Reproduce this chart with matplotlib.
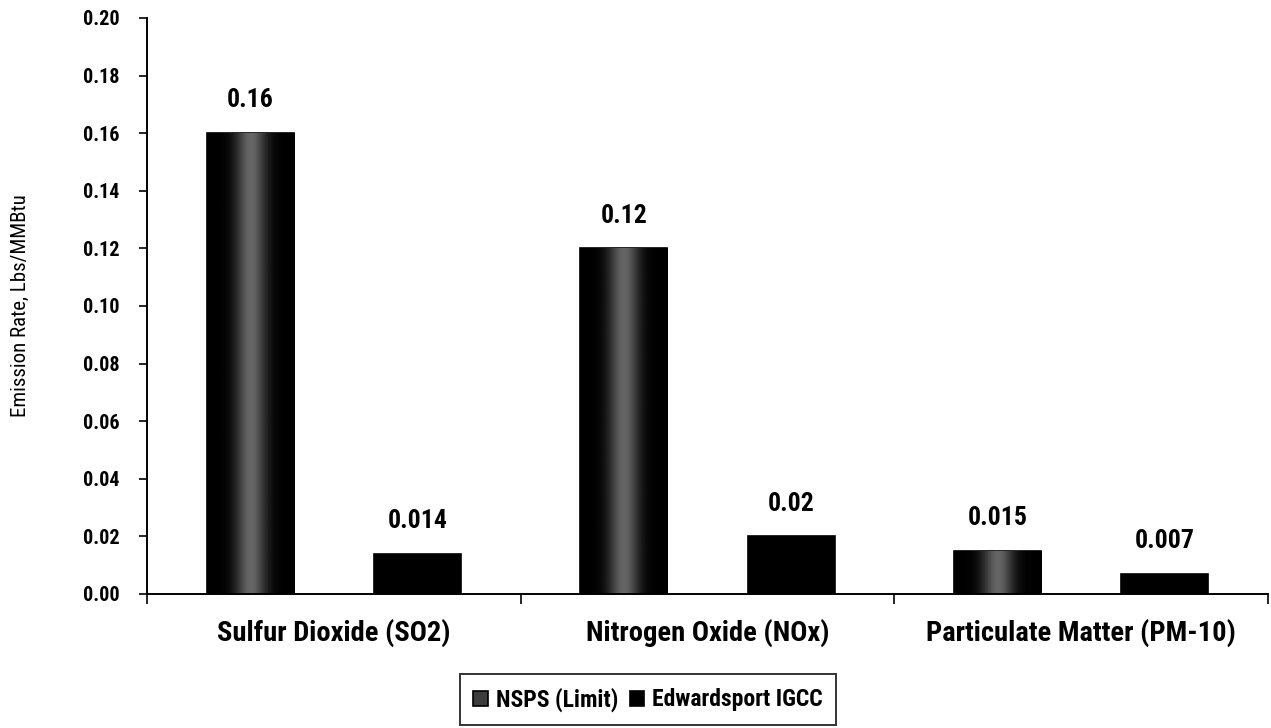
import numpy as np
import matplotlib.pyplot as plt
from matplotlib.ticker import FixedLocator

plt.rcParams['font.family'] = ['Roboto Condensed', 'DejaVu Sans']

# Emission rates, lbs/MMBtu
pollutants = ['Sulfur Dioxide (SO2)', 'Nitrogen Oxide (NOx)', 'Particulate Matter (PM-10)']
nsps_limit = [0.16, 0.12, 0.015]
edwardsport = [0.014, 0.02, 0.007]
nsps_labels = ['0.16', '0.12', '0.015']
edw_labels = ['0.014', '0.02', '0.007']

fig = plt.figure(figsize=(12.71, 7.28), dpi=100)
ax = fig.add_axes([0.1157, 0.1841, 0.8819, 0.7912])

x = np.arange(len(pollutants))
w = 0.233
off = 0.224

b1 = ax.bar(x - off, nsps_limit, w, color='#3c3c3c', edgecolor='black',
            linewidth=1.2, label='NSPS (Limit)', zorder=2)
b2 = ax.bar(x + off, edwardsport, w, color='black', edgecolor='black',
            linewidth=1.2, label='Edwardsport IGCC', zorder=2)

# shaded fill for the limit bars: dark edges, lighter middle
prof = np.linspace(-1, 1, 200)
shade = 0.40 * np.exp(-(prof / 0.35) ** 2)
grad = np.tile(shade, (2, 1))
for bar in b1:
    x0, y0 = bar.get_x(), bar.get_y()
    im = ax.imshow(grad, cmap='gray', vmin=0, vmax=1, aspect='auto',
                   extent=(x0, x0 + bar.get_width(), y0, y0 + bar.get_height()),
                   zorder=2.5, interpolation='bilinear')
    im.set_clip_path(bar)

for bars, labels in ((b1, nsps_labels), (b2, edw_labels)):
    for bar, txt in zip(bars, labels):
        ax.annotate(txt, (bar.get_x() + bar.get_width() / 2, bar.get_height()),
                    xytext=(0, 15), textcoords='offset points', ha='center',
                    va='bottom', fontsize=18.5, fontweight='bold')

ax.set_xlim(-0.5, 2.5)
ax.set_ylim(0, 0.20)
yt = np.arange(0, 0.201, 0.02)
ax.set_yticks(yt)
ax.set_yticklabels([f'{v:.2f}' for v in yt], fontsize=14.5, fontweight='bold')
ax.set_xticks(x)
ax.set_xticklabels(pollutants, fontsize=20.5, fontweight='bold')
ax.xaxis.set_minor_locator(FixedLocator([-0.5, 0.5, 1.5, 2.5]))
ax.tick_params(axis='x', which='major', length=0, pad=18)
ax.tick_params(axis='x', which='minor', length=7, width=1.2, direction='out')
ax.tick_params(axis='y', length=6, width=1.2, direction='out', pad=14)

for s in ('top', 'right'):
    ax.spines[s].set_visible(False)
for s in ('left', 'bottom'):
    ax.spines[s].set_linewidth(1.4)

ax.set_ylabel('Emission Rate, Lbs/MMBtu', fontsize=15, labelpad=38)

leg = fig.legend(handles=[b1, b2], loc='center', bbox_to_anchor=(0.51, 0.039),
                 ncol=2, frameon=True, fancybox=False, edgecolor='black',
                 prop={'size': 17, 'weight': 'bold'}, handlelength=0.6,
                 handleheight=0.6, handletextpad=0.35, columnspacing=0.5,
                 borderpad=0.55)
leg.get_frame().set_linewidth(1.4)

fig.savefig('out.png', dpi=100)
